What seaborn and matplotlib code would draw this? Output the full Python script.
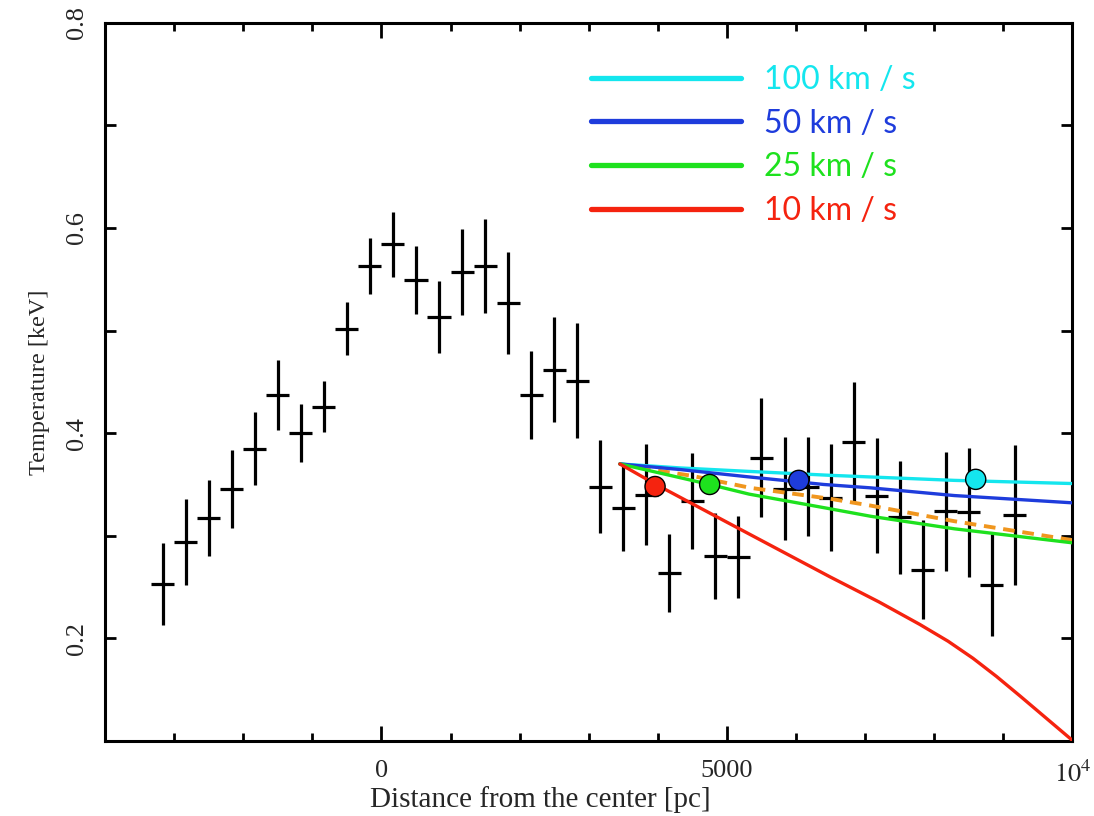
import matplotlib
matplotlib.use("Agg")
import numpy as np
import pandas as pd
import matplotlib.pyplot as plt
from matplotlib.ticker import MultipleLocator, FixedLocator, FixedFormatter
import seaborn as sns

# Temperature profile: bin centres (pc), best-fit temperature and 1-sigma error (keV)
distance_pc = [-3166.7, -2833.3, -2500.0, -2166.7, -1833.3, -1500.0, -1166.7, -833.3,
               -500.0, -166.7, 166.7, 500.0, 833.3, 1166.7, 1500.0, 1833.3,
               2166.7, 2500.0, 2833.3, 3166.7, 3500.0, 3833.3, 4166.7, 4500.0,
               4833.3, 5166.7, 5500.0, 5833.3, 6166.7, 6500.0, 6833.3, 7166.7,
               7500.0, 7833.3, 8166.7, 8500.0, 8833.3, 9166.7]
temperature_kev = [0.253, 0.294, 0.317, 0.346, 0.385, 0.437, 0.400, 0.426,
                   0.502, 0.563, 0.584, 0.549, 0.513, 0.557, 0.563, 0.527,
                   0.437, 0.462, 0.451, 0.348, 0.327, 0.340, 0.264, 0.334,
                   0.280, 0.279, 0.376, 0.346, 0.348, 0.337, 0.391, 0.339,
                   0.318, 0.267, 0.324, 0.323, 0.252, 0.320]
temperature_err = [0.040, 0.042, 0.037, 0.038, 0.036, 0.034, 0.028, 0.025,
                   0.026, 0.027, 0.032, 0.033, 0.035, 0.042, 0.046, 0.050,
                   0.043, 0.051, 0.056, 0.045, 0.042, 0.049, 0.038, 0.047,
                   0.042, 0.040, 0.058, 0.050, 0.048, 0.052, 0.059, 0.056,
                   0.055, 0.048, 0.058, 0.063, 0.050, 0.068]
bin_halfwidth_pc = 166.7

# Model temperature tracks for several flow velocities
velocity_labels = ["100 km / s", "50 km / s", "25 km / s", "10 km / s"]
velocity_colors = ["#14e6ee", "#1e3cdc", "#1ee11e", "#f5230f"]

track_x_100 = [3450, 4330, 5300, 6500, 8290, 10000]
track_t_100 = [0.370, 0.3661, 0.3628, 0.3589, 0.3540, 0.3509]

track_x_50 = [3450, 4330, 5300, 6400, 7080, 8290, 10000]
track_t_50 = [0.370, 0.3645, 0.3575, 0.3500, 0.3467, 0.3392, 0.3321]

track_x_25 = [3450, 4000, 4750, 5320, 6500, 7080, 8290, 10000]
track_t_25 = [0.370, 0.3616, 0.3500, 0.3406, 0.3262, 0.3190, 0.3068, 0.2931]

track_x_10 = [3450, 3960, 5000, 6490, 7200, 7790, 8200, 8560, 8900, 9240, 9620, 10000]
track_t_10 = [0.370, 0.3505, 0.3132, 0.2600, 0.2355, 0.2136, 0.1972, 0.1806,
              0.1629, 0.1439, 0.1222, 0.1005]

# Reference track (dashed)
ref_x = [3450, 3900, 4480, 5340, 6500, 7080, 8290, 10000]
ref_t = [0.370, 0.3645, 0.3586, 0.3467, 0.3360, 0.3294, 0.3142, 0.2957]

# Marked positions on each track
marker_x = [8600, 6040, 4750, 3960]
marker_t = [0.355, 0.354, 0.350, 0.348]

# ---------------------------------------------------------------
sns.set_theme(style="ticks")
plt.rcParams["font.family"] = ["Liberation Serif", "DejaVu Serif"]
plt.rcParams["mathtext.fontset"] = "stix"

fig = plt.figure(figsize=(10.94, 8.16), dpi=100)
ax = fig.add_axes([0.096, 0.092, 0.8843, 0.880])

ax.errorbar(distance_pc, temperature_kev, xerr=bin_halfwidth_pc, yerr=temperature_err,
            fmt="none", ecolor="black", elinewidth=2.3, capsize=0, zorder=2)

tracks = pd.concat([
    pd.DataFrame({"distance": tx, "temperature": tt, "velocity": lab})
    for tx, tt, lab in zip([track_x_100, track_x_50, track_x_25, track_x_10],
                           [track_t_100, track_t_50, track_t_25, track_t_10],
                           velocity_labels)
], ignore_index=True)
palette = dict(zip(velocity_labels, velocity_colors))

sns.lineplot(data=tracks, x="distance", y="temperature", hue="velocity",
             hue_order=velocity_labels, palette=palette, sort=False,
             estimator=None, linewidth=2.4, ax=ax, zorder=4)

ref_df = pd.DataFrame({"distance": ref_x, "temperature": ref_t})
sns.lineplot(data=ref_df, x="distance", y="temperature", color="#f0961e",
             linewidth=2.8, dashes=False, linestyle=(0, (3.0, 2.0)),
             estimator=None, sort=False, ax=ax, zorder=3, legend=False)

markers_df = pd.DataFrame({"distance": marker_x, "temperature": marker_t,
                           "velocity": velocity_labels})
sns.scatterplot(data=markers_df, x="distance", y="temperature", hue="velocity",
                hue_order=velocity_labels, palette=palette, s=210,
                edgecolor="black", linewidth=1.0, ax=ax, zorder=5, legend=False)

# Axes ranges and ticks
ax.set_xlim(-4000, 10000)
ax.set_ylim(0.1, 0.8)
ax.xaxis.set_major_locator(FixedLocator([0, 5000, 10000]))
ax.xaxis.set_major_formatter(FixedFormatter(["0", "5000", r"$10^4$"]))
ax.xaxis.set_minor_locator(MultipleLocator(1000))
ax.yaxis.set_major_locator(FixedLocator([0.2, 0.4, 0.6, 0.8]))
ax.yaxis.set_major_formatter(FixedFormatter(["0.2", "0.4", "0.6", "0.8"]))
ax.yaxis.set_minor_locator(MultipleLocator(0.1))

ax.tick_params(which="both", direction="in", top=True, right=True,
               width=2.0, color="black")
ax.tick_params(axis="x", which="major", length=10.5, pad=14, labelsize=19)
ax.tick_params(axis="x", which="minor", length=5.5)
ax.tick_params(axis="y", which="both", length=8)
ax.tick_params(axis="y", which="major", pad=12, labelsize=19, labelrotation=90)
for lab in ax.get_yticklabels():
    lab.set_verticalalignment("center")

for sp in ax.spines.values():
    sp.set_linewidth(2.2)
    sp.set_color("black")

ax.set_xlabel("Distance from the center [pc]", fontsize=21)
ax.xaxis.set_label_coords(0.45, -0.063)
ax.set_ylabel("Temperature [keV]", fontsize=17.5, labelpad=12)

# Legend with coloured labels
handles, labels = ax.get_legend_handles_labels()
leg = ax.legend(handles, labels, loc="upper left", bbox_to_anchor=(0.502, 0.9415),
                frameon=False, borderpad=0, borderaxespad=0, handlelength=4.72,
                handletextpad=0.72, labelspacing=0.43, labelcolor="linecolor",
                prop={"family": "Lato", "size": 23})
for line in leg.get_lines():
    line.set_linewidth(3.8)

fig.savefig("out.png", dpi=100, facecolor="white")
